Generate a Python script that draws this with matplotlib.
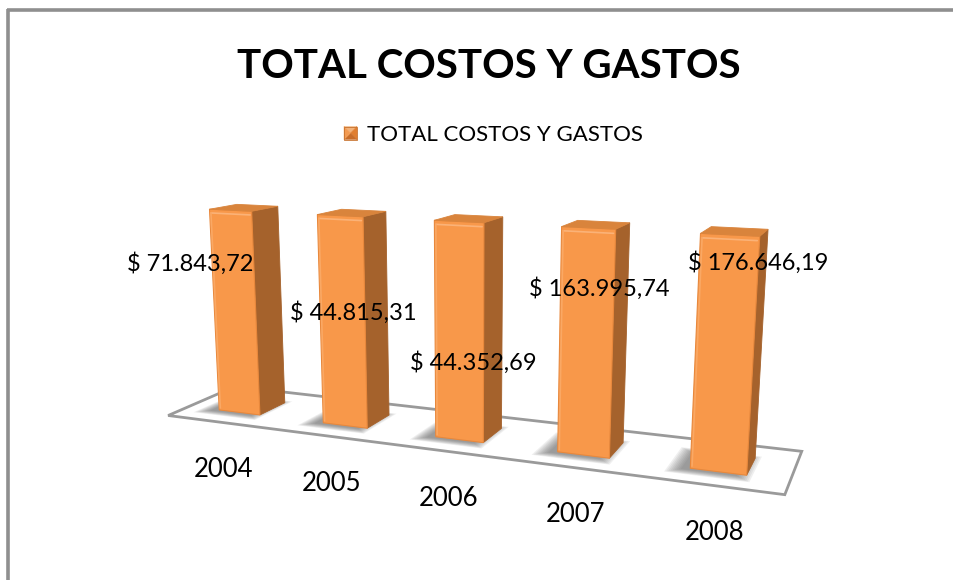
import numpy as np
import matplotlib
matplotlib.use("Agg")
import matplotlib.pyplot as plt
from matplotlib.patches import Polygon
from matplotlib.lines import Line2D

# ---------------- data ----------------
years = ["2004", "2005", "2006", "2007", "2008"]
totals = [71843.72, 44815.31, 44352.69, 163995.74, 176646.19]
series_name = "TOTAL COSTOS Y GASTOS"
chart_title = "TOTAL COSTOS Y GASTOS"
value_axis_max = 40000.0          # fixed top of the value axis; taller columns are cut there


def pesos(v):
    s = f"{v:,.2f}"
    return "$ " + s.replace(",", "_").replace(".", ",").replace("_", ".")


# ---------------- page ----------------
W, H, DPI = 954, 580, 100
plt.rcParams["font.family"] = ["Lato", "DejaVu Sans"]
fig = plt.figure(figsize=(W / DPI, H / DPI), dpi=DPI)
fig.patch.set_facecolor("white")
ax = fig.add_axes([0, 0, 1, 1])
ax.set_xlim(0, W)
ax.set_ylim(H, 0)
ax.axis("off")

# ---------------- 3-D camera ----------------
yaw, pitch = np.radians(22.0), np.radians(12.5)
focal = 1157.0
distance = 9.0
anchor = np.array([469.0, 334.0])
floor_depth = 1.0
wall_height = 1.70
n_cat = len(years)
target = np.array([n_cat / 2, floor_depth / 2, 0.8])

cam_right = np.array([np.cos(yaw), np.sin(yaw), 0.0])
cam_down = np.array([np.sin(pitch) * np.sin(yaw), -np.sin(pitch) * np.cos(yaw), -np.cos(pitch)])
cam_fwd = np.array([-np.cos(pitch) * np.sin(yaw), np.cos(pitch) * np.cos(yaw), -np.sin(pitch)])
eye = target - distance * cam_fwd


def project(pts):
    d = np.atleast_2d(np.asarray(pts, float)) - eye
    cx, cy, cz = d @ cam_right, d @ cam_down, d @ cam_fwd
    return np.column_stack([anchor[0] + focal * cx / cz, anchor[1] + focal * cy / cz])


def cam_depth(p):
    return (np.asarray(p, float) - eye) @ cam_fwd


def to_height(v):
    return min(v, value_axis_max) / value_axis_max * wall_height


# ---------------- frame of the chart area ----------------
frame_col = "#8f8f8f"
fig.add_artist(Line2D([7 / W, 1.0], [1 - 10 / H, 1 - 10 / H], color=frame_col, lw=2.6,
                      transform=fig.transFigure, solid_capstyle="butt"))
fig.add_artist(Line2D([8 / W, 8 / W], [0.0, 1 - 9 / H], color=frame_col, lw=2.6,
                      transform=fig.transFigure, solid_capstyle="butt"))

# ---------------- floor ----------------
floor = project([[0, 0, 0], [n_cat, 0, 0], [n_cat, floor_depth, 0], [0, floor_depth, 0]])
ax.add_patch(Polygon(floor, closed=True, facecolor="white", edgecolor="#9a9a9a", lw=2.0, zorder=1))

# ---------------- columns ----------------
bar_w = 0.40
bar_d = 0.40
front_col = "#F8984A"
side_col = "#A5622C"
top_col = "#D9843C"

order = sorted(range(n_cat), key=lambda i: -cam_depth([i + 0.5, floor_depth / 2, 0]))
for i in order:
    x0, x1 = i + 0.5 - bar_w / 2, i + 0.5 + bar_w / 2
    y0, y1 = floor_depth / 2 - bar_d / 2, floor_depth / 2 + bar_d / 2
    h = to_height(totals[i])

    # soft contact shadow
    cxs, cys = (x0 + x1) / 2 - 0.06, (y0 + y1) / 2 - 0.04
    for k, grow in enumerate(np.linspace(1.5, 1.0, 9)):
        hw, hd = bar_w / 2 * grow, bar_d / 2 * grow
        sh = project([[cxs - hw, cys - hd, 0], [cxs + hw, cys - hd, 0],
                      [cxs + hw, cys + hd, 0], [cxs - hw, cys + hd, 0]])
        ax.add_patch(Polygon(sh, closed=True, facecolor="#555555", edgecolor="none",
                             alpha=0.09, zorder=2, joinstyle="round"))

    front = project([[x0, y0, 0], [x1, y0, 0], [x1, y0, h], [x0, y0, h]])
    side = project([[x1, y0, 0], [x1, y1, 0], [x1, y1, h], [x1, y0, h]])
    top = project([[x0, y0, h], [x1, y0, h], [x1, y1, h], [x0, y1, h]])
    ax.add_patch(Polygon(side, closed=True, facecolor=side_col, edgecolor=side_col, lw=0.6, zorder=3))
    ax.add_patch(Polygon(front, closed=True, facecolor=front_col, edgecolor="#E8883C", lw=0.8, zorder=4))
    ax.add_patch(Polygon(top, closed=True, facecolor=top_col, edgecolor=top_col, lw=0.6, zorder=5))
    # bevel highlight on the front face
    hl = project([[x0 + 0.015, y0, h - 0.03], [x1 - 0.015, y0, h - 0.03]])
    ax.plot(hl[:, 0], hl[:, 1], color="#FBB277", lw=1.2, zorder=6, solid_capstyle="round")
    hl = project([[x0 + 0.012, y0, 0.02], [x0 + 0.012, y0, h - 0.03]])
    ax.plot(hl[:, 0], hl[:, 1], color="#FAA864", lw=1.2, zorder=6)

# ---------------- category labels ----------------
for i, yr in enumerate(years):
    p = project([i + 0.5, 0, 0])[0]
    ax.annotate(yr, xy=p, xytext=(4, -55), textcoords="offset pixels",
                ha="center", va="baseline", fontsize=18.5, color="black", zorder=8)

# ---------------- data labels ----------------
label_centres = [(190, 271), (353, 320), (473, 370), (599, 296), (758, 270)]
for v, (lx, ly) in zip(totals, label_centres):
    ax.text(lx, ly, pesos(v), ha="center", va="baseline", fontsize=17, color="black", zorder=9)

# ---------------- title & legend ----------------
ax.text(489, 78, chart_title, ha="center", va="baseline", fontsize=29, fontweight="bold",
        color="black", zorder=9)

mk_c = np.array([350.5, 133.0])
r = 6.5
tl, tr, br, bl = mk_c + [-r, -r], mk_c + [r, -r], mk_c + [r, r], mk_c + [-r, r]
for tri, col in [((tl, tr, mk_c), "#F2B27A"), ((tr, br, mk_c), "#E07E30"),
                 ((br, bl, mk_c), "#C86C28"), ((bl, tl, mk_c), "#F39A50")]:
    ax.add_patch(Polygon(np.array(tri), closed=True, facecolor=col, edgecolor=col, lw=0.3, zorder=9))
ax.add_patch(Polygon(np.array([tl, tr, br, bl]), closed=True, facecolor="none",
                     edgecolor="#C7722E", lw=0.6, zorder=10))
ax.text(367, 141, series_name, ha="left", va="baseline", fontsize=16, color="black", zorder=9)

fig.savefig("out.png", dpi=DPI, facecolor="white")
